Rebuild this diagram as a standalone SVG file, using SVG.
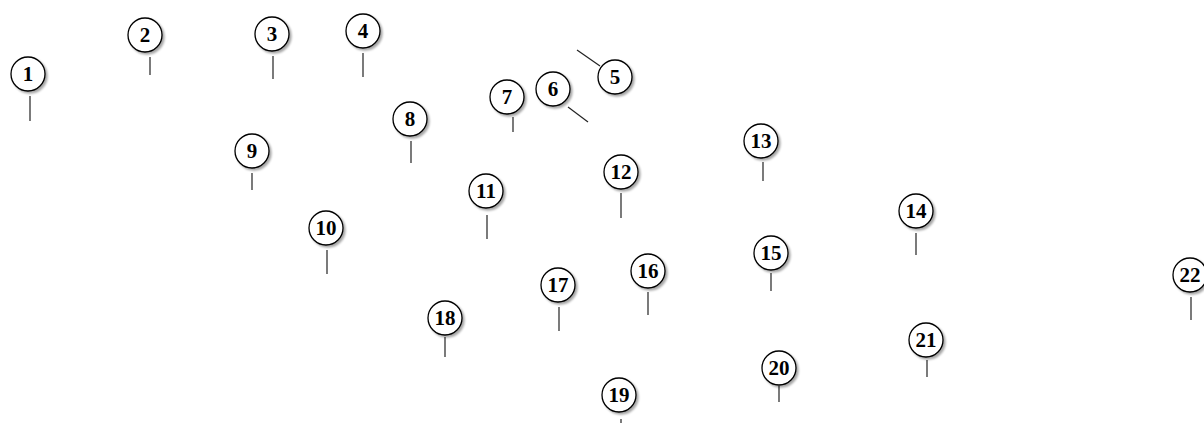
<svg xmlns="http://www.w3.org/2000/svg" width="1204" height="423" viewBox="0 0 1204 423">
<style>
.n circle{fill:#fff;stroke:#000;stroke-width:1.3;filter:url(#sh)}
.n text{font-family:"Liberation Serif","Times New Roman",serif;font-weight:bold;font-size:21px;text-anchor:middle;fill:#000}
#connectors line{stroke:#222;stroke-width:1.2}
</style>
<defs>
<filter id="sh" x="-30%" y="-30%" width="170%" height="170%">
<feDropShadow dx="2" dy="2" stdDeviation="1" flood-color="#000" flood-opacity="0.35"/>
</filter>
</defs>
<rect width="1204" height="423" fill="#fff"/>
<g id="connectors">
<line x1="30" y1="96" x2="30" y2="121"/>
<line x1="150" y1="57" x2="150" y2="75"/>
<line x1="273" y1="56" x2="273" y2="79"/>
<line x1="363" y1="53" x2="363" y2="77"/>
<line x1="577" y1="50" x2="600" y2="66"/>
<line x1="568" y1="107" x2="588" y2="122"/>
<line x1="513" y1="117" x2="513" y2="132"/>
<line x1="411" y1="141" x2="411" y2="163"/>
<line x1="252" y1="173" x2="252" y2="190"/>
<line x1="327" y1="250" x2="327" y2="274"/>
<line x1="487" y1="215" x2="487" y2="239"/>
<line x1="621" y1="193" x2="621" y2="218"/>
<line x1="763" y1="162" x2="763" y2="181"/>
<line x1="916" y1="233" x2="916" y2="255"/>
<line x1="771" y1="273" x2="771" y2="291"/>
<line x1="648" y1="292" x2="648" y2="315"/>
<line x1="559" y1="307" x2="559" y2="331"/>
<line x1="445" y1="337" x2="445" y2="357"/>
<line x1="621" y1="419" x2="621" y2="423"/>
<line x1="779" y1="386" x2="779" y2="402"/>
<line x1="927" y1="360" x2="927" y2="377"/>
<line x1="1191" y1="297" x2="1191" y2="320"/>
</g>
<g id="node1" class="n"><circle cx="28" cy="74" r="17"/><text x="28" y="81">1</text></g>
<g id="node2" class="n"><circle cx="145" cy="35" r="17"/><text x="145" y="42">2</text></g>
<g id="node3" class="n"><circle cx="272" cy="34" r="17"/><text x="272" y="41">3</text></g>
<g id="node4" class="n"><circle cx="363" cy="31" r="17"/><text x="363" y="38">4</text></g>
<g id="node5" class="n"><circle cx="615" cy="77" r="17"/><text x="615" y="84">5</text></g>
<g id="node6" class="n"><circle cx="553" cy="89" r="17"/><text x="553" y="96">6</text></g>
<g id="node7" class="n"><circle cx="507" cy="97" r="17"/><text x="507" y="104">7</text></g>
<g id="node8" class="n"><circle cx="410" cy="119" r="17"/><text x="410" y="126">8</text></g>
<g id="node9" class="n"><circle cx="252" cy="151" r="17"/><text x="252" y="158">9</text></g>
<g id="node10" class="n"><circle cx="326" cy="228" r="17"/><text x="326" y="235">10</text></g>
<g id="node11" class="n"><circle cx="486" cy="191" r="17"/><text x="486" y="198">11</text></g>
<g id="node12" class="n"><circle cx="621" cy="172" r="17"/><text x="621" y="179">12</text></g>
<g id="node13" class="n"><circle cx="761" cy="141" r="17"/><text x="761" y="148">13</text></g>
<g id="node14" class="n"><circle cx="916" cy="211" r="17"/><text x="916" y="218">14</text></g>
<g id="node15" class="n"><circle cx="771" cy="253" r="17"/><text x="771" y="260">15</text></g>
<g id="node16" class="n"><circle cx="648" cy="271" r="17"/><text x="648" y="278">16</text></g>
<g id="node17" class="n"><circle cx="558" cy="285" r="17"/><text x="558" y="292">17</text></g>
<g id="node18" class="n"><circle cx="445" cy="318" r="17"/><text x="445" y="325">18</text></g>
<g id="node19" class="n"><circle cx="619" cy="395" r="17"/><text x="619" y="402">19</text></g>
<g id="node20" class="n"><circle cx="779" cy="368" r="17"/><text x="779" y="375">20</text></g>
<g id="node21" class="n"><circle cx="926" cy="340" r="17"/><text x="926" y="347">21</text></g>
<g id="node22" class="n"><circle cx="1190" cy="275" r="17"/><text x="1190" y="282">22</text></g>
</svg>
